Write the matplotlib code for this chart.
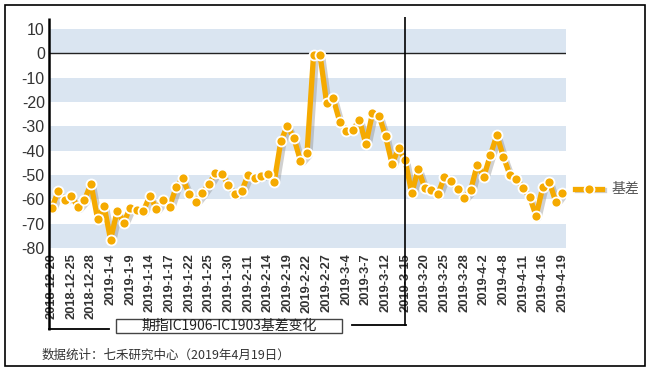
import matplotlib
matplotlib.use("Agg")
import matplotlib.pyplot as plt
import matplotlib.patheffects as pe
from matplotlib.lines import Line2D
from matplotlib.patches import Rectangle
import matplotlib.transforms as mtransforms

plt.rcParams['font.family'] = ['Liberation Sans', 'Noto Sans CJK SC', 'DejaVu Sans']

dates = [
    "2018-12-20", "2018-12-21", "2018-12-24", "2018-12-25", "2018-12-26", "2018-12-27", "2018-12-28",
    "2019-1-2", "2019-1-3", "2019-1-4", "2019-1-7", "2019-1-8", "2019-1-9", "2019-1-10", "2019-1-11",
    "2019-1-14", "2019-1-15", "2019-1-16", "2019-1-17", "2019-1-18", "2019-1-21", "2019-1-22",
    "2019-1-23", "2019-1-24", "2019-1-25", "2019-1-28", "2019-1-29", "2019-1-30", "2019-1-31",
    "2019-2-1", "2019-2-11", "2019-2-12", "2019-2-13", "2019-2-14", "2019-2-15", "2019-2-18",
    "2019-2-19", "2019-2-20", "2019-2-21", "2019-2-22", "2019-2-25", "2019-2-26", "2019-2-27",
    "2019-2-28", "2019-3-1", "2019-3-4", "2019-3-5", "2019-3-6", "2019-3-7", "2019-3-8",
    "2019-3-11", "2019-3-12", "2019-3-13", "2019-3-14", "2019-3-15", "2019-3-18", "2019-3-19",
    "2019-3-20", "2019-3-21", "2019-3-22", "2019-3-25", "2019-3-26", "2019-3-27", "2019-3-28",
    "2019-3-29", "2019-4-1", "2019-4-2", "2019-4-3", "2019-4-4", "2019-4-8", "2019-4-9",
    "2019-4-10", "2019-4-11", "2019-4-12", "2019-4-15", "2019-4-16", "2019-4-17", "2019-4-18",
    "2019-4-19",
]

basis = [
    -63.6, -56.7, -60.3, -58.5, -63.3, -60.3, -53.6, -67.9, -62.7, -76.6,
    -64.7, -69.6, -63.4, -64.4, -64.8, -58.6, -63.8, -60.3, -63.0, -55.1,
    -51.4, -57.8, -61.0, -57.5, -53.7, -49.3, -49.5, -54.2, -57.9, -56.7,
    -50.1, -51.2, -50.3, -49.7, -52.7, -36.2, -29.7, -34.9, -44.1, -41.1,
    -0.7, -0.7, -20.5, -18.5, -28.1, -31.9, -31.5, -27.4, -37.3, -24.7,
    -25.6, -34.0, -45.5, -39.0, -44.0, -57.5, -47.5, -55.5, -56.3, -57.9,
    -50.7, -52.5, -55.8, -59.3, -56.2, -45.8, -50.8, -41.9, -33.6, -42.5,
    -50.0, -51.6, -55.5, -59.0, -66.8, -55.1, -52.7, -61.0, -57.3,
]

yticks = [10, 0, -10, -20, -30, -40, -50, -60, -70, -80]
series_name = "基差"
box_title = "期指IC1906-IC1903基差变化"
source_text = "数据统计：七禾研究中心（2019年4月19日）"
marker_date = "2019-3-15"

W, H = 649, 370
fig = plt.figure(figsize=(W / 100, H / 100), dpi=100)
fig.patch.set_facecolor("white")

def fx(px):
    return px / W

def fy(py):
    return 1 - py / H

ax_l, ax_r, ax_t, ax_b = 49, 565.7, 29, 248
ax = fig.add_axes([fx(ax_l), fy(ax_b), fx(ax_r - ax_l), fy(ax_t) - fy(ax_b)])
ax.set_facecolor("white")

xs = list(range(len(dates)))
n = len(dates)

# bands
for lo in [0, -20, -40, -60, -80]:
    ax.axhspan(lo, lo + 10, color="#DAE5F1", lw=0, zorder=0)
ax.axhline(0, color="#222222", lw=1.0, zorder=1)

orange = "#F5AA00"
ax.plot(xs, basis, color=orange, lw=3.8, solid_joinstyle="round", solid_capstyle="round", zorder=3,
        path_effects=[pe.SimpleLineShadow(offset=(2.0, -2.0), shadow_color="#8a8a8a", alpha=0.4),
                      pe.Normal()])
ax.plot(xs, basis, ls="none", marker="o", ms=7.2, mfc=orange, mec="white", mew=1.3, zorder=4)

ax.set_xlim(-0.41, n - 1 + 0.52)
ax.set_ylim(-80, 10)

for s in ["top", "right", "bottom", "left"]:
    ax.spines[s].set_visible(False)

ax.set_yticks(yticks)
ax.set_yticklabels([str(v) for v in yticks], fontsize=11.5, color="#333333")
ax.tick_params(axis="y", length=0, pad=3)

tick_idx = list(range(0, n, 3))
ax.set_xticks(tick_idx)
ax.set_xticklabels([dates[i] for i in tick_idx], rotation=90, fontsize=9.3,
                   fontweight="bold", color="#333333", va="top", ha="center")
ax.tick_params(axis="x", length=0, pad=4)

# left thick spine extended into bracket
trans_ya = mtransforms.blended_transform_factory(ax.transAxes, ax.transAxes)
hpx = ax_b - ax_t
def ay(py):
    return (ax_b - py) / hpx

ax.plot([0, 0], [ay(18), ay(329.5)], color="black", lw=1.8,
        transform=trans_ya, clip_on=False, zorder=5, solid_capstyle="butt")

# vertical marker line at 2019-3-15
vi = dates.index(marker_date)
trans_xd = mtransforms.blended_transform_factory(ax.transData, ax.transAxes)
ax.plot([vi, vi], [ay(17), ay(325.5)], color="black", lw=1.2, transform=trans_xd,
        clip_on=False, zorder=5, solid_capstyle="butt")

# bracket horizontal lines
fig.add_artist(Line2D([fx(48.5), fx(109)], [fy(329.3), fy(329.3)], color="black", lw=1.3))
fig.add_artist(Line2D([fx(351.7), fx(405.7)], [fy(325), fy(325)], color="black", lw=1.3))

# box with title
fig.add_artist(Rectangle((fx(116), fy(333.3)), fx(342 - 116), fy(318.7) - fy(333.3),
                         facecolor="white", edgecolor="#444444", lw=1.0))
fig.text(fx(229), fy(326), box_title, fontsize=10, color="#222222", ha="center", va="center",
         family=["Noto Sans CJK SC", "DejaVu Sans"])

# source text
fig.text(fx(42), fy(355), source_text, fontsize=9, color="#333333", ha="left", va="center",
         family=["Noto Sans CJK SC", "DejaVu Sans"])

# legend
ly = 189
fig.add_artist(Line2D([fx(577), fx(604)], [fy(ly + 1.5), fy(ly + 1.5)], color="#bbbbbb", lw=3.8, alpha=0.7))
fig.add_artist(Line2D([fx(575), fx(602)], [fy(ly), fy(ly)], color=orange, lw=3.8))
fig.add_artist(Line2D([fx(588.5)], [fy(ly)], marker="o", ms=7.2, mfc=orange, mec="white", mew=1.3))
fig.text(fx(612), fy(ly), series_name, fontsize=10, color="#555555", ha="left", va="center",
         family=["Noto Sans CJK SC", "DejaVu Sans"])

# outer frame
fig.add_artist(Rectangle((fx(4.5), fy(366)), fx(645 - 4.5), fy(4.5) - fy(366),
                         facecolor="none", edgecolor="black", lw=1.2))

fig.savefig("out.png", dpi=100, facecolor="white")
